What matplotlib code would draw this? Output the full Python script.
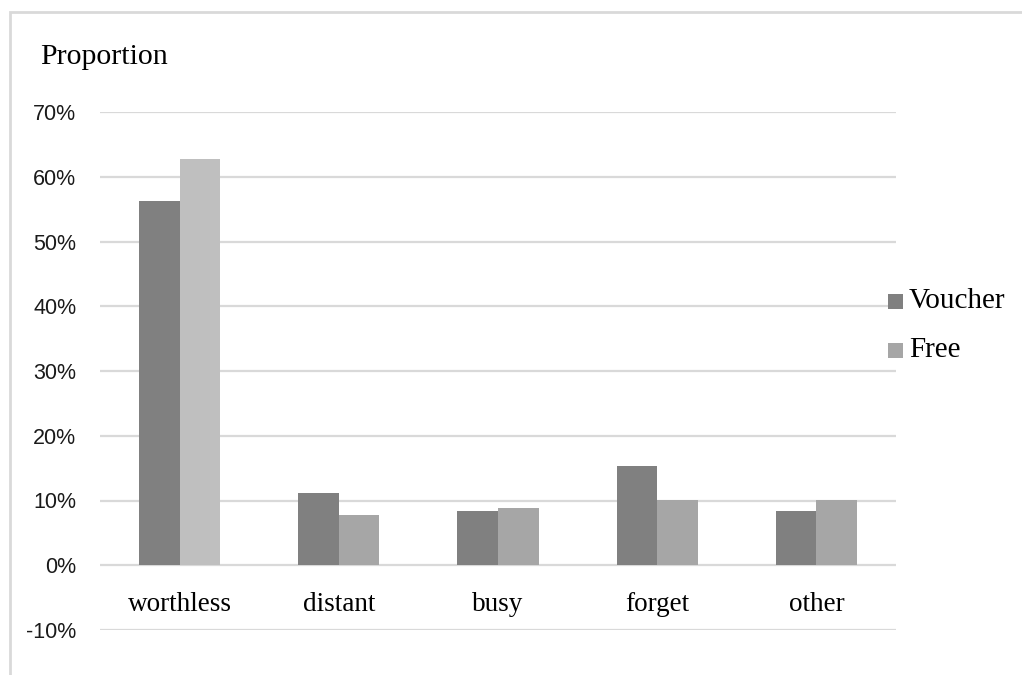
import matplotlib
matplotlib.use("Agg")
import matplotlib.pyplot as plt
from matplotlib.patches import Rectangle
import numpy as np

categories = ["worthless", "distant", "busy", "forget", "other"]
voucher = [56.3, 11.2, 8.4, 15.4, 8.4]
free = [62.7, 7.7, 8.9, 10.15, 10.15]
yticks = [-10, 0, 10, 20, 30, 40, 50, 60, 70]
ytick_labels = ["-10%", "0%", "10%", "20%", "30%", "40%", "50%", "60%", "70%"]

W, H = 1022, 675
fig = plt.figure(figsize=(W / 100, H / 100), dpi=100)
fig.patch.set_facecolor("white")

# outer chart frame (cropped at right/bottom)
fig.add_artist(Rectangle((10 / W, -0.05), 1.1, 1 - 12 / H + 0.05, transform=fig.transFigure,
                         fill=False, edgecolor="#D9D9D9", linewidth=2))

ax = fig.add_axes([100 / W, 1 - 630 / H, (896 - 100) / W, (630 - 112) / H])
ax.set_xlim(-0.5, len(categories) - 0.5)
ax.set_ylim(-10, 70)

x = np.arange(len(categories))
bw = 0.255
free_colors = ["#BFBFBF"] + ["#A6A6A6"] * (len(categories) - 1)
ax.bar(x - bw / 2, voucher, width=bw, color="#808080", zorder=3, label="Voucher")
ax.bar(x + bw / 2, free, width=bw, color=free_colors, zorder=3, label="Free")

ax.set_yticks(yticks)
ax.set_yticklabels(ytick_labels, fontfamily="Liberation Sans", fontsize=15.5, color="#1a1a1a")
ax.tick_params(axis="y", length=0, pad=17)
ax.set_xticks([])
ax.grid(axis="y", color="#D9D9D9", linewidth=1.6, zorder=0)
for s in ax.spines.values():
    s.set_visible(False)

for i, c in enumerate(categories):
    ax.text(i, -6.1, c, ha="center", va="center", fontfamily="Liberation Serif",
            fontsize=19.5, color="#000000")

fig.text(40 / W, 1 - 57 / H, "Proportion", ha="left", va="center",
         fontfamily="Liberation Serif", fontsize=21.5, color="#000000")

# legend
leg_items = [("Voucher", "#808080", 301), ("Free", "#A6A6A6", 350)]
for label, col, yc in leg_items:
    fig.add_artist(Rectangle((888 / W, 1 - (yc + 7.5) / H), 15 / W, 15 / H,
                             transform=fig.transFigure, facecolor=col, edgecolor="none"))
    fig.text(909 / W, 1 - yc / H, label, ha="left", va="center",
             fontfamily="Liberation Serif", fontsize=21, color="#000000")

fig.savefig("out.png", dpi=100, facecolor="white")
